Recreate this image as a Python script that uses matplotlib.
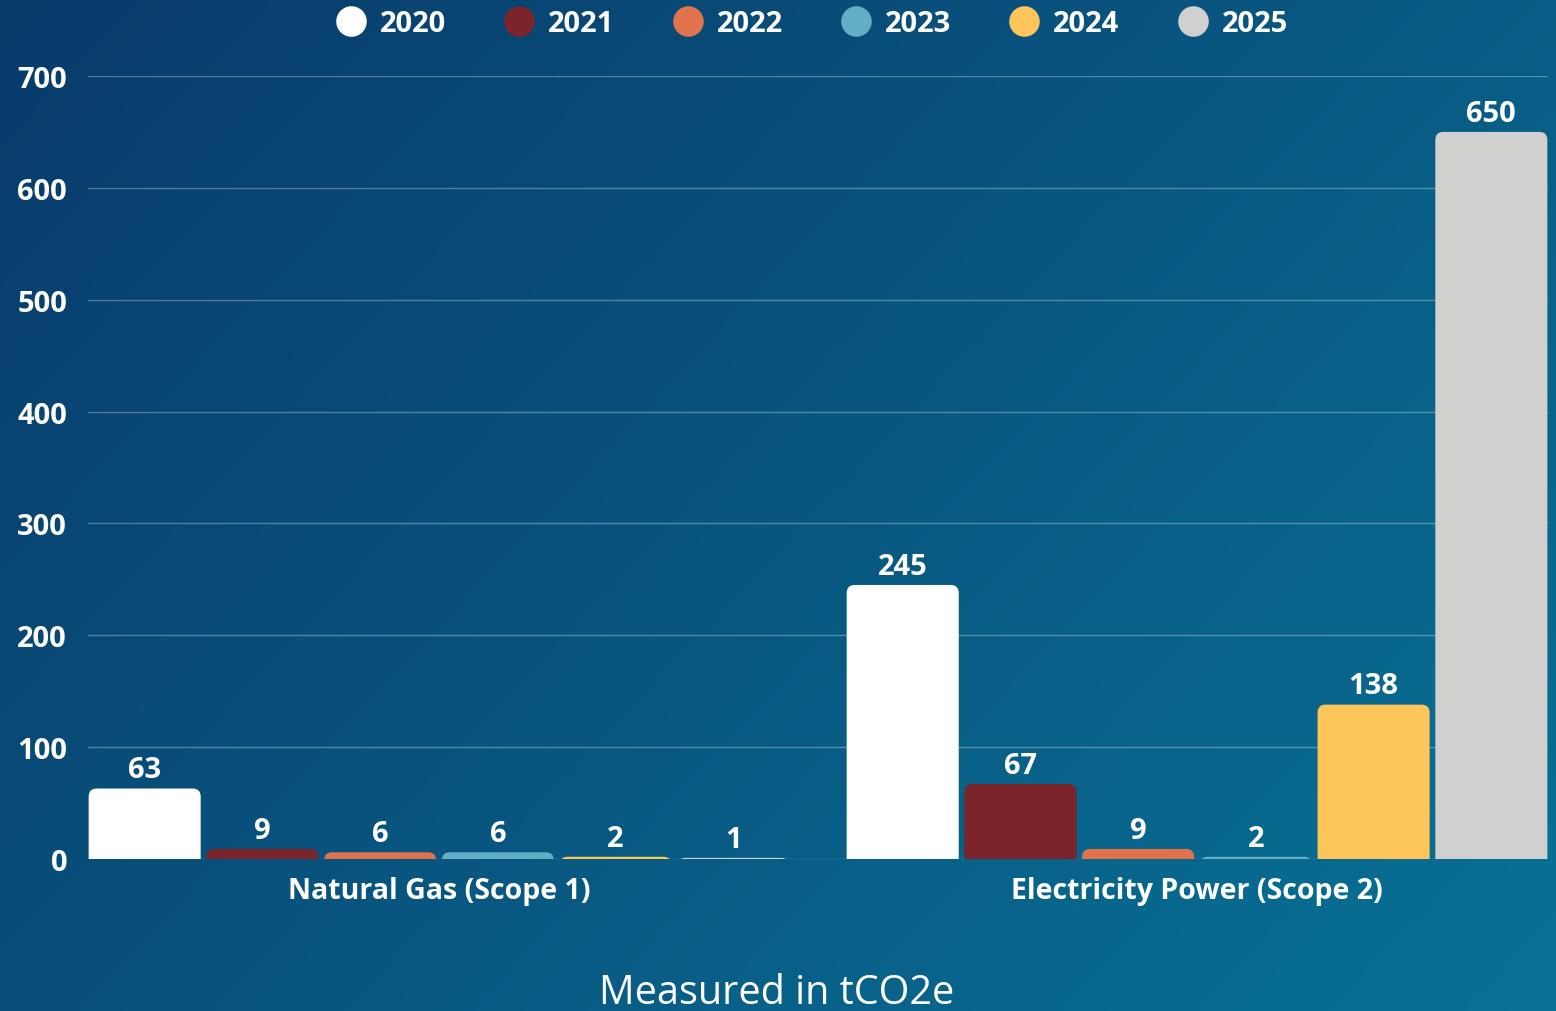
import numpy as np
import matplotlib
matplotlib.use("Agg")
import matplotlib.pyplot as plt
from matplotlib.patches import FancyBboxPatch
from matplotlib.lines import Line2D

# ---- data ----
categories = ["Natural Gas (Scope 1)", "Electricity Power (Scope 2)"]
years = ["2020", "2021", "2022", "2023", "2024", "2025"]
values = {
    "2020": [63, 245],
    "2021": [9, 67],
    "2022": [6, 9],
    "2023": [6, 2],
    "2024": [2, 138],
    "2025": [1, 650],
}
colors = ["#ffffff", "#7b2429", "#e0734c", "#62aec4", "#fec55a", "#d0d0ce"]
yticks = [0, 100, 200, 300, 400, 500, 600, 700]

FONT = ['Open Sans', 'DejaVu Sans']
plt.rcParams['font.family'] = FONT

W, H = 1556, 1012
fig = plt.figure(figsize=(W / 100, H / 100), dpi=100)

# background gradient
bg = fig.add_axes([0, 0, 1, 1], zorder=-10)
gx, gy = np.meshgrid(np.linspace(0, 1, 400), np.linspace(0, 1, 260))
t = np.clip(0.62 * gx + 0.38 * gy, 0, 1)
c0 = np.array([9, 58, 106]) / 255.0
c1 = np.array([8, 114, 150]) / 255.0
img = c0[None, None, :] * (1 - t[..., None]) + c1[None, None, :] * t[..., None]
bg.imshow(img, aspect='auto', extent=[0, 1, 0, 1], origin='upper')
bg.set_axis_off()

ax = fig.add_axes([88 / W, 1 - 860 / H, (1548 - 88) / W, (860 - 77) / H])
ax.patch.set_alpha(0)

n = len(years)
x = np.arange(len(categories))
slot = 0.1553
bw = 0.1478
offsets = (np.arange(n) - (n - 1) / 2) * slot

ax.set_xlim(-0.463, 1.463)
ax.set_ylim(0, 700)

# px -> data conversion for rounded corners
px_x = (1.463 + 0.463) / (1548 - 88)
px_y = 700 / (860 - 77)
aspect = px_y / px_x
r = 8 * px_x

for i, yr in enumerate(years):
    bars = ax.bar(x + offsets[i], values[yr], width=bw, color=colors[i], zorder=3)
    for b, v in zip(bars, values[yr]):
        bx, by = b.get_x(), b.get_y()
        bwid, bh = b.get_width(), b.get_height()
        b.set_visible(False)
        p = FancyBboxPatch((bx, by - 20), bwid, bh + 20,
                           boxstyle=f"round,pad=0,rounding_size={r}",
                           mutation_aspect=aspect, facecolor=colors[i],
                           edgecolor='none', zorder=3, clip_on=True)
        ax.add_patch(p)
        ax.annotate(f"{v}", (bx + bwid / 2, bh), xytext=(0, 3),
                    textcoords='offset points', ha='center', va='bottom',
                    color='white', fontsize=21, fontweight='bold', zorder=5)

ax.set_yticks(yticks)
ax.set_yticklabels([str(v) for v in yticks])
ax.yaxis.grid(True, color='white', alpha=0.3, linewidth=1.0, zorder=1)
ax.tick_params(axis='y', length=0, pad=15, labelsize=21, labelcolor='white')
for lab in ax.get_yticklabels():
    lab.set_fontweight('bold')
ax.set_xticks(x)
ax.set_xticklabels(categories)
ax.tick_params(axis='x', length=0, pad=12, labelsize=20.5, labelcolor='white')
for lab in ax.get_xticklabels():
    lab.set_fontweight('bold')
for s in ax.spines.values():
    s.set_visible(False)

handles = [Line2D([0], [0], marker='o', linestyle='none', markersize=22,
                  markerfacecolor=c, markeredgecolor='none') for c in colors]
leg = fig.legend(handles, years, loc='center', bbox_to_anchor=(0.521, 1 - 25 / H),
                 ncol=6, frameon=False, handletextpad=0.4, columnspacing=1.9,
                 handlelength=1.2, prop={'size': 21, 'weight': 'bold'})
for tx in leg.get_texts():
    tx.set_color('white')

fig.text(0.499, 1 - 994 / H, "Measured in tCO2e", ha='center', va='center',
         color='white', fontsize=28.5)

fig.savefig("out.png", dpi=100)
